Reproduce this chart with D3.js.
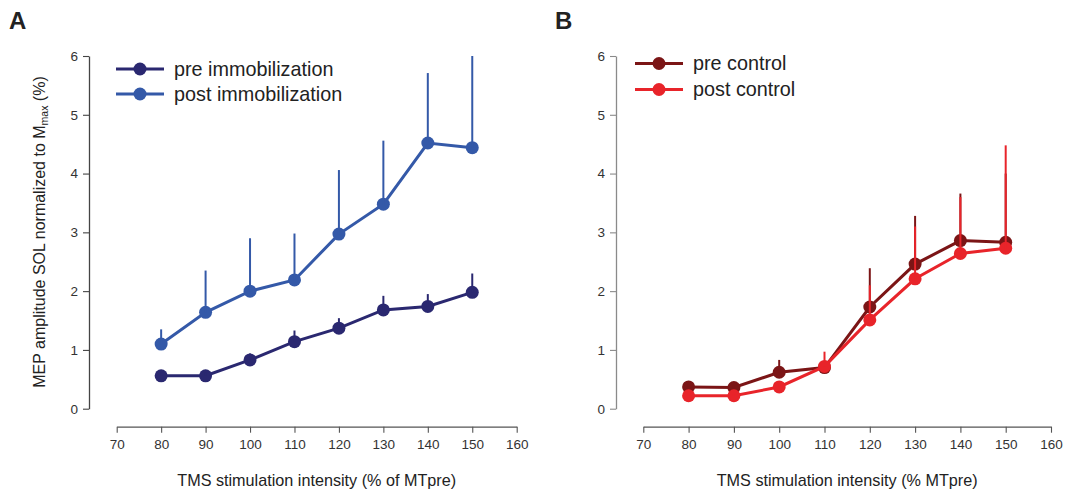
<!DOCTYPE html>
<html>
<head>
<meta charset="utf-8">
<script src="https://cdn.jsdelivr.net/npm/d3@7"></script>
<style>
  body { margin: 0; background: #fff; }
  svg { font-family: "Liberation Sans", Arial, sans-serif; }
</style>
</head>
<body>
<svg id="chart" width="1069" height="492"></svg>
<script>
// intensities (% of MTpre)
const intensities = [80, 90, 100, 110, 120, 130, 140, 150];
const xTicks = [70, 80, 90, 100, 110, 120, 130, 140, 150, 160];
const yTicks = [0, 1, 2, 3, 4, 5, 6];

// panel A - immobilization group, mean and upper error bar end
const preImmob = [0.56, 0.56, 0.83, 1.14, 1.37, 1.68, 1.74, 1.98];
const preImmobTop = [0.62, 0.62, 0.94, 1.33, 1.54, 1.92, 1.95, 2.30];
const postImmob = [1.10, 1.64, 2.00, 2.19, 2.97, 3.48, 4.52, 4.44];
const postImmobTop = [1.35, 2.35, 2.90, 2.98, 4.06, 4.56, 5.71, 6.00];

// panel B - control group
const preCtrl = [0.37, 0.36, 0.62, 0.70, 1.73, 2.46, 2.86, 2.83];
const preCtrlTop = [0.42, 0.40, 0.83, 0.74, 2.39, 3.28, 3.66, 4.00];
const postCtrl = [0.22, 0.22, 0.37, 0.72, 1.51, 2.21, 2.64, 2.73];
const postCtrlTop = [0.25, 0.25, 0.42, 0.97, 2.10, 3.10, 3.60, 4.48];

const svg = d3.select("#chart");

function panel(opt) {
  const g = svg.append("g");
  const x = d3.scaleLinear().domain([70, 160]).range([opt.x0, opt.x1]);
  const y = d3.scaleLinear().domain([0, 6]).range([408.7, 56]);

  // y axis
  const ya = g.append("g")
    .attr("transform", `translate(${opt.yAxisX},0)`)
    .call(d3.axisLeft(y).tickValues(yTicks).tickFormat(d3.format("d"))
      .tickSize(6).tickPadding(5).tickSizeOuter(0));
  ya.select(".domain").attr("stroke", opt.axisColor).attr("stroke-width", 1.3);
  ya.selectAll(".tick line").attr("stroke", opt.axisColor).attr("stroke-width", 1.1);
  ya.selectAll(".tick text").attr("fill", "#333").style("font-size", "13.5px")
    .style("font-family", "Liberation Sans, Arial, sans-serif");

  // x axis
  const xa = g.append("g")
    .attr("transform", "translate(0,426.7)")
    .call(d3.axisBottom(x).tickValues(xTicks).tickSize(6).tickPadding(7).tickSizeOuter(0));
  xa.select(".domain").attr("stroke", "#555").attr("stroke-width", 1.3);
  xa.selectAll(".tick line").attr("stroke", "#555").attr("stroke-width", 1.1);
  xa.selectAll(".tick text").attr("fill", "#333").style("font-size", "13.5px")
    .style("font-family", "Liberation Sans, Arial, sans-serif");

  g.append("text")
    .attr("x", (opt.x0 + opt.x1) / 2).attr("y", 486)
    .attr("text-anchor", "middle")
    .style("font-size", "16.2px").attr("fill", "#222")
    .text(opt.xTitle);

  // panel letter
  g.append("text")
    .attr("x", opt.letterX).attr("y", 29)
    .style("font-size", "24px").style("font-weight", "bold").attr("fill", "#222")
    .text(opt.letter);

  const line = d3.line().x((d, i) => x(intensities[i])).y(d => y(d));

  opt.series.forEach(s => {
    g.append("path")
      .datum(s.values)
      .attr("d", line)
      .attr("fill", "none")
      .attr("stroke", s.color)
      .attr("stroke-width", 3);

    g.selectAll(null)
      .data(s.values)
      .join("circle")
      .attr("cx", (d, i) => x(intensities[i]))
      .attr("cy", d => y(d))
      .attr("r", 6.5)
      .attr("fill", s.color);

    g.selectAll(null)
      .data(s.values)
      .join("line")
      .attr("x1", (d, i) => x(intensities[i]))
      .attr("x2", (d, i) => x(intensities[i]))
      .attr("y1", d => y(d))
      .attr("y2", (d, i) => y(s.top[i]))
      .attr("stroke", s.color)
      .attr("stroke-width", 2);
  });

  // legend
  opt.series.forEach((s, i) => {
    const ly = opt.legendY + i * opt.legendGap;
    g.append("line")
      .attr("x1", opt.legendX).attr("x2", opt.legendX + 48)
      .attr("y1", ly).attr("y2", ly)
      .attr("stroke", s.color).attr("stroke-width", 3);
    g.append("circle")
      .attr("cx", opt.legendX + 24).attr("cy", ly).attr("r", 6.5)
      .attr("fill", s.color);
    g.append("text")
      .attr("x", opt.legendX + 58).attr("y", ly)
      .attr("dy", "0.35em")
      .style("font-size", "19.8px").attr("fill", "#222")
      .text(s.name);
  });

  return g;
}

panel({
  x0: 116.7, x1: 516.7, yAxisX: 89, axisColor: "#444",
  letter: "A", letterX: 9,
  xTitle: "TMS stimulation intensity (% of MTpre)",
  legendX: 116, legendY: 69, legendGap: 25,
  series: [
    {name: "pre immobilization", values: preImmob, top: preImmobTop, color: "#2a2870"},
    {name: "post immobilization", values: postImmob, top: postImmobTop, color: "#3459a8"}
  ]
});

panel({
  x0: 643.3, x1: 1051, yAxisX: 616, axisColor: "#8a8a8a",
  letter: "B", letterX: 555,
  xTitle: "TMS stimulation intensity (% MTpre)",
  legendX: 635, legendY: 63.5, legendGap: 26,
  series: [
    {name: "pre control", values: preCtrl, top: preCtrlTop, color: "#7b1516"},
    {name: "post control", values: postCtrl, top: postCtrlTop, color: "#e8242a"}
  ]
});

// y axis title for panel A
const yt = svg.append("text")
  .attr("transform", "translate(45,232) rotate(-90)")
  .attr("text-anchor", "middle")
  .style("font-size", "16px").attr("fill", "#222");
yt.append("tspan").text("MEP amplitude SOL normalized to M");
yt.append("tspan").attr("dy", 3).style("font-size", "10.5px").text("max");
yt.append("tspan").attr("dy", -3).text(" (%)");
</script>
</body>
</html>
